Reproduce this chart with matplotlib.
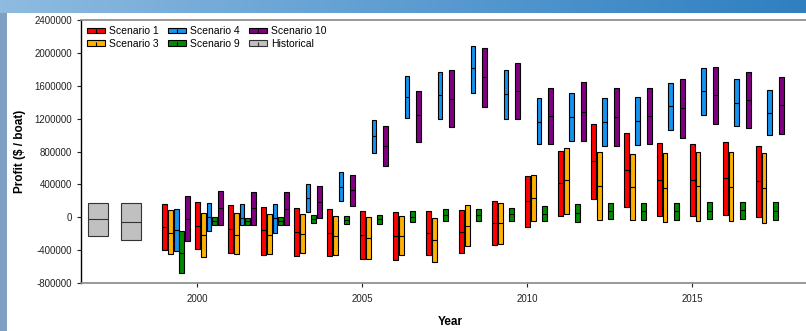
import numpy as np
import matplotlib.pyplot as plt
from matplotlib.patches import Rectangle
from matplotlib.lines import Line2D
from matplotlib.legend_handler import HandlerTuple
from matplotlib.colors import LinearSegmentedColormap

plt.rcParams['font.family'] = ['Liberation Sans', 'DejaVu Sans']

years = list(range(1999, 2018))

# low / median / high profit per year for each scenario
s1_low = [-396000, -388000, -429000, -461000, -469000, -469000, -509000, -517000, -457000, -433000,
          -339000, -121000, 12000, 226000, 125000, 12000, 12000, 24000, 4000]
s1_med = [-121000, -109000, -138000, -158000, -178000, -194000, -215000, -227000, -194000, -174000,
          -73000, 194000, 412000, 682000, 577000, 456000, 456000, 473000, 440000]
s1_high = [158000, 185000, 153000, 121000, 109000, 97000, 80000, 64000, 76000, 88000,
           201000, 504000, 807000, 1135000, 1025000, 900000, 897000, 921000, 864000]

s3_low = [-448000, -481000, -445000, -448000, -433000, -461000, -505000, -465000, -545000, -348000,
          -320000, -41000, 40000, -36000, -33000, -57000, -45000, -48000, -69000]
s3_med = [-187000, -211000, -211000, -211000, -199000, -227000, -247000, -227000, -279000, -105000,
          -73000, 238000, 456000, 376000, 367000, 359000, 379000, 371000, 355000]
s3_high = [88000, 56000, 48000, 40000, 36000, 19000, 0, 16000, -5000, 145000,
           177000, 509000, 848000, 788000, 764000, 779000, 800000, 792000, 783000]

s4_low = [-412000, -170000, -97000, -194000, 64000, 194000, 776000, 1207000, 1195000, 1510000,
          1195000, 888000, 929000, 864000, 880000, 1062000, 1248000, 1115000, 1001000]
s4_med = [-154000, 0, -5000, -5000, 238000, 364000, 985000, 1462000, 1482000, 1810000,
          1494000, 1159000, 1219000, 1159000, 1167000, 1353000, 1539000, 1394000, 1273000]
s4_high = [100000, 170000, 165000, 158000, 404000, 545000, 1179000, 1721000, 1765000, 2088000,
           1797000, 1446000, 1507000, 1455000, 1462000, 1632000, 1822000, 1680000, 1551000]

s9_low = [-675000, -97000, -97000, -97000, -73000, -81000, -77000, -57000, -41000, -48000,
          -41000, -48000, -61000, -24000, -29000, -29000, -24000, -21000, -33000]
s9_med = [-429000, -45000, -48000, -45000, -21000, -33000, -24000, 7000, 28000, 28000,
          36000, 40000, 48000, 76000, 73000, 73000, 76000, 85000, 76000]
s9_high = [-170000, 4000, -5000, 4000, 32000, 16000, 28000, 76000, 101000, 97000,
           113000, 133000, 157000, 173000, 173000, 170000, 182000, 189000, 182000]

s10_low = [-291000, -89000, -89000, -89000, -12000, 137000, 618000, 916000, 1095000, 1345000,
           1192000, 892000, 929000, 873000, 892000, 970000, 1135000, 1082000, 1013000]
s10_med = [-17000, 113000, 109000, 105000, 189000, 331000, 864000, 1240000, 1442000, 1704000,
           1531000, 1236000, 1285000, 1224000, 1236000, 1325000, 1482000, 1426000, 1361000]
s10_high = [262000, 319000, 307000, 310000, 383000, 509000, 1107000, 1539000, 1797000, 2061000,
            1874000, 1571000, 1640000, 1576000, 1576000, 1685000, 1825000, 1765000, 1704000]

hist_years = [1997, 1998]
hist_low = [-230000, -275000]
hist_med = [-25000, -57000]
hist_high = [170000, 170000]

scenarios = [
    ("Scenario 1", "#ff0000", 0.00, s1_low, s1_med, s1_high),
    ("Scenario 3", "#ffb000", 0.18, s3_low, s3_med, s3_high),
    ("Scenario 4", "#1493f0", 0.36, s4_low, s4_med, s4_high),
    ("Scenario 9", "#008a00", 0.54, s9_low, s9_med, s9_high),
    ("Scenario 10", "#800080", 0.72, s10_low, s10_med, s10_high),
]

W, H = 806, 331
fig = plt.figure(figsize=(W / 100, H / 100), dpi=100)
fig.patch.set_facecolor("white")

# slide background: gradient band on top, strip on the left
band = fig.add_axes([0, 1 - 13 / H, 1, 13 / H], zorder=-2)
grad = np.linspace(0, 1, 256)[None, :]
cm = LinearSegmentedColormap.from_list("band", ["#8fbbe0", "#5d9dd2", "#2f7fc1"])
band.imshow(grad, aspect="auto", cmap=cm, extent=[0, 1, 0, 1])
band.axis("off")
fig.add_artist(Rectangle((0, 0), 7 / W, 1 - 13 / H, transform=fig.transFigure,
                         facecolor="#7f9fc3", edgecolor="none", zorder=-2))

ax = fig.add_axes([81 / W, (H - 283) / H, (830 - 81) / W, (283 - 20) / H])
bw = 0.15

for name, color, off, lo, med, hi in scenarios:
    x = np.array(years) + off
    lo, med, hi = np.array(lo), np.array(med), np.array(hi)
    ax.bar(x, hi - lo, bottom=lo, width=bw, color=color, edgecolor="black", linewidth=0.8, zorder=3)
    ax.hlines(med, x - bw / 2, x + bw / 2, color="black", linewidth=0.8, zorder=4)

hx = np.array(hist_years)
hlo, hmed, hhi = np.array(hist_low), np.array(hist_med), np.array(hist_high)
hw = 0.6
ax.bar(hx, hhi - hlo, bottom=hlo, width=hw, color="#c0c0c0", edgecolor="#333333", linewidth=0.8, zorder=3)
ax.hlines(hmed, hx - hw / 2, hx + hw / 2, color="#333333", linewidth=0.8, zorder=4)

ax.set_xlim(1996.48, 2019.18)
ax.set_ylim(-800000, 2400000)
ax.set_xticks([2000, 2005, 2010, 2015])
ax.set_yticks(np.arange(-800000, 2400001, 400000))
ax.set_yticklabels([str(v) for v in range(-800000, 2400001, 400000)])
ax.tick_params(axis="both", direction="out", labelsize=7, length=3, width=0.8, colors="#222222")
ax.tick_params(axis="x", pad=5)
for side in ["top", "bottom"]:
    ax.spines[side].set_color("#888888")
    ax.spines[side].set_linewidth(1.2)
ax.spines["left"].set_linewidth(1.0)
ax.spines["right"].set_visible(False)

ax.set_ylabel("Profit ($ / boat)", fontsize=8.5, fontweight="bold", labelpad=6)
ax.set_xlabel("Year", fontsize=8.5, fontweight="bold")
ax.xaxis.set_label_coords((450 - 81) / (830 - 81), -0.125)

# legend handles: small box with a median tick in the middle
handles, labels = [], []
for name, color, off, *_ in scenarios:
    handles.append((Rectangle((0, 0), 1, 1, facecolor=color, edgecolor="black", linewidth=0.8),
                    Line2D([], [], marker="|", color="black", linestyle="none", markersize=3.5, markeredgewidth=0.8)))
    labels.append(name)
handles.append((Rectangle((0, 0), 1, 1, facecolor="#c0c0c0", edgecolor="#333333", linewidth=0.8),
                Line2D([], [], marker="|", color="#333333", linestyle="none", markersize=3.5, markeredgewidth=0.8)))
labels.append("Historical")

ax.legend(handles, labels, handler_map={tuple: HandlerTuple(ndivide=1)}, ncol=3,
          loc="upper left", bbox_to_anchor=(0.0, 1.0), frameon=False, fontsize=7.5,
          handlelength=1.7, handleheight=0.45, handletextpad=0.4, columnspacing=0.9,
          labelspacing=0.25, borderaxespad=0.2)

fig.savefig("out.png", dpi=100)
